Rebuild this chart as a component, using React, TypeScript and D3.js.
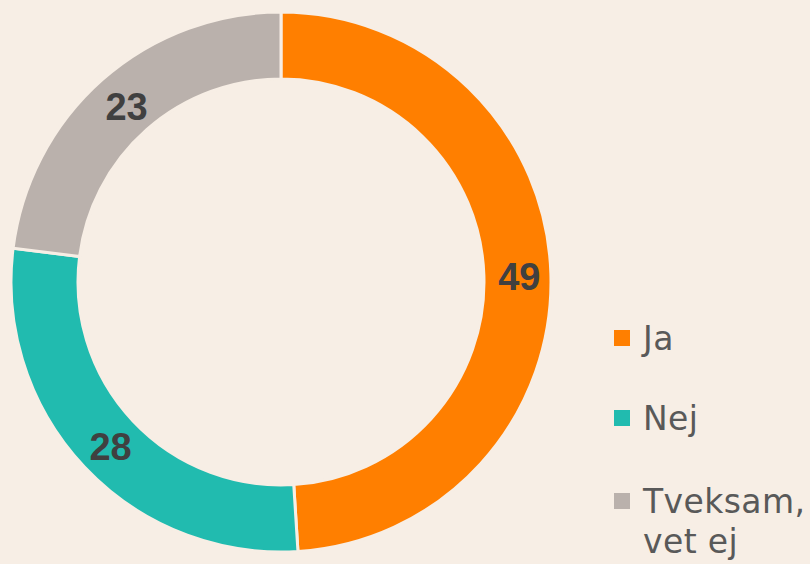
import React, { useRef, useEffect } from 'react';
import * as d3 from 'd3';

const categories = ['Ja', 'Nej', 'Tveksam, vet ej'];
const values = [49, 28, 23];
const colors = ['#FF7F00', '#21BBAF', '#BAB1AC'];

const App = () => {
  const ref = useRef<SVGSVGElement>(null);

  useEffect(() => {
    const width = 810, height = 564;
    const cx = 281, cy = 282;
    const outer = 270, inner = 203;

    const svg = d3.select(ref.current);
    svg.selectAll('*').remove();

    svg.append('rect')
      .attr('width', width)
      .attr('height', height)
      .attr('fill', '#F7EEE5');

    const pie = d3.pie<number>().sort(null).value(d => d);
    const arc = d3.arc<d3.PieArcDatum<number>>()
      .innerRadius(inner)
      .outerRadius(outer);

    const g = svg.append('g').attr('transform', `translate(${cx},${cy})`);
    const arcs = pie(values);

    g.selectAll('path')
      .data(arcs)
      .enter().append('path')
      .attr('d', arc)
      .attr('fill', (d, i) => colors[i])
      .attr('stroke', '#F7EEE5')
      .attr('stroke-width', 3);

    g.selectAll('text.lbl')
      .data(arcs)
      .enter().append('text')
      .attr('class', 'lbl')
      .attr('x', d => arc.centroid(d)[0] + 2)
      .attr('y', d => arc.centroid(d)[1] + 2)
      .attr('dy', '0.36em')
      .attr('text-anchor', 'middle')
      .attr('font-family', '"Liberation Sans", Arial, sans-serif')
      .attr('font-weight', 'bold')
      .attr('font-size', 38)
      .attr('fill', '#404040')
      .text(d => d.data);

    // legend
    const legend = svg.append('g').attr('transform', 'translate(614,0)');
    const rowY = [350, 430, 513];
    categories.forEach((c, i) => {
      legend.append('rect')
        .attr('x', 0)
        .attr('y', rowY[i] - 20)
        .attr('width', 16)
        .attr('height', 16)
        .attr('fill', colors[i]);
      const parts = c === 'Tveksam, vet ej' ? ['Tveksam,', 'vet ej'] : [c];
      const t = legend.append('text')
        .attr('x', 29)
        .attr('y', rowY[i])
        .attr('font-family', '"DejaVu Sans", sans-serif')
        .attr('font-size', 33)
        .attr('letter-spacing', 0.4)
        .attr('fill', '#595959');
      parts.forEach((p, j) => {
        t.append('tspan')
          .attr('x', 29)
          .attr('dy', j === 0 ? 0 : 40)
          .text(p);
      });
    });
  }, []);

  return (
    <svg ref={ref} width={810} height={564} style={{ position: 'absolute', left: 0, top: 0 }} />
  );
};

export default App;
